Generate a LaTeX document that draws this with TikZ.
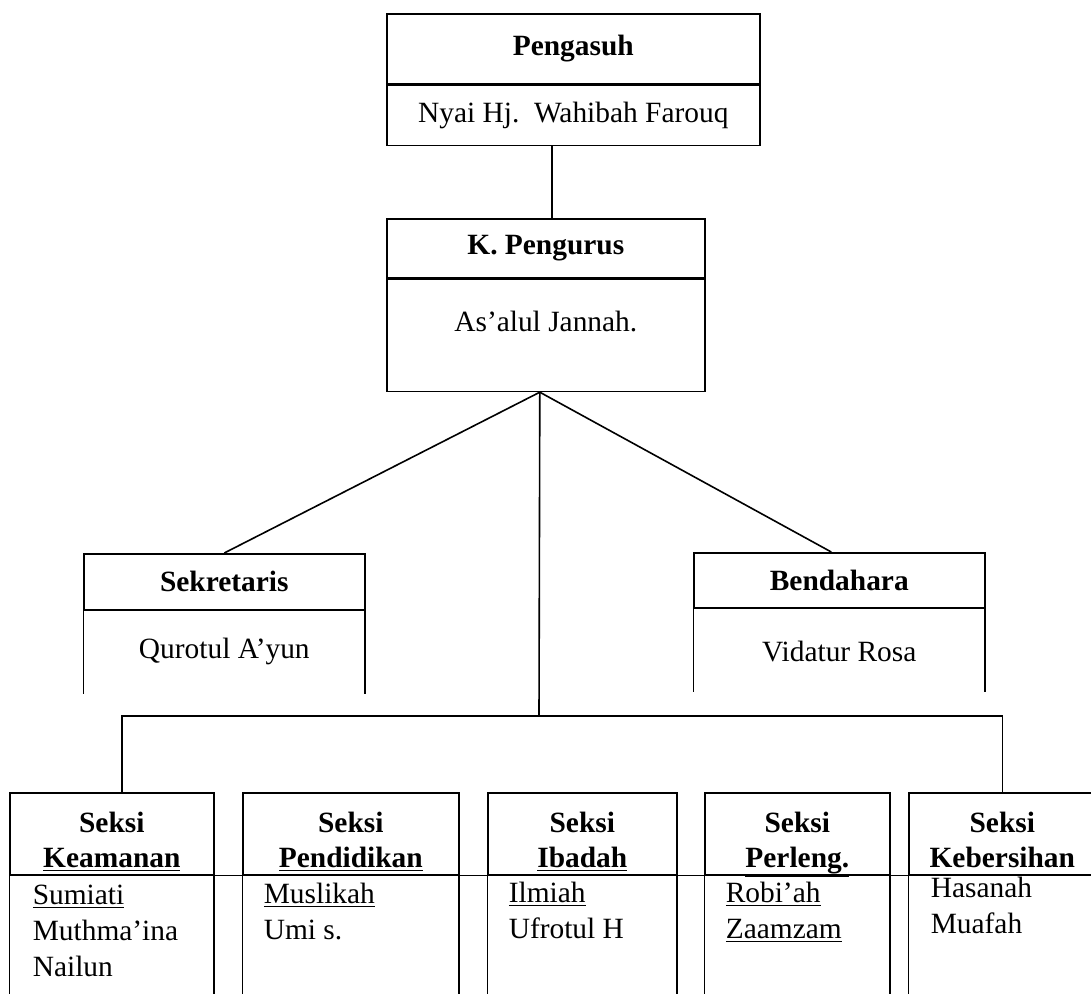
\documentclass[tikz,border=0pt]{standalone}
\usepackage{fontspec}
\setmainfont{Liberation Serif}
\usetikzlibrary{positioning, calc}

\begin{document}
\begin{tikzpicture}[%
    x=0.5pt, y=-0.5pt,
    every node/.style={%
      font=\fontsize{14.7}{18}\selectfont,
      text=black,
      inner sep=0pt
    },
    frame/.style={draw=black, line width=0.8pt},
    link/.style={draw=black, line width=0.8pt},
    head/.style={frame, align=center, font=\fontsize{14.7}{17.5}\selectfont\bfseries},
    headtext/.style={align=center, font=\fontsize{14.7}{17.5}\selectfont\bfseries},
    names/.style={anchor=north west, align=left}
  ]

  \useasboundingbox (0,0) rectangle (1091,994);

  % Pengasuh
  \node[head, minimum width=186.5pt, minimum height=35pt, anchor=north west]
    (p1) at (386,13) {Pengasuh};
  \node[frame, minimum width=186.5pt, minimum height=30pt, anchor=north]
    (p2) at (p1.south) {Nyai Hj.\ \ Wahibah Farouq};

  % K. Pengurus
  \node[head, minimum width=159pt, minimum height=29.5pt, anchor=north west]
    (k1) at (386,218) {K. Pengurus};
  \node[frame, minimum width=159pt, minimum height=56pt, anchor=north]
    (k2) at (k1.south) {};
  \node (k3) at ($(k2.north)+(0,43)$) {As'alul Jannah.};

  % Sekretaris
  \node[head, minimum width=140.5pt, minimum height=28pt, anchor=north west]
    (s1) at (83,553) {Sekretaris};
  \node[minimum width=140.5pt, minimum height=41.5pt, anchor=north]
    (s2) at (s1.south) {};
  \draw[link] (s2.north west) -- (s2.south west);
  \draw[link] (s2.north east) -- (s2.south east);
  \node (s3) at ($(s2.north)+(0,41)$) {Qurotul A'yun};

  % Bendahara
  \node[head, minimum width=145.5pt, minimum height=27.5pt, anchor=north west]
    (b1) at (693,552) {Bendahara};
  \node[minimum width=145.5pt, minimum height=41.5pt, anchor=north]
    (b2) at (b1.south) {};
  \draw[link] (b2.north west) -- (b2.south west);
  \draw[link] (b2.north east) -- (b2.south east);
  \node (b3) at ($(b2.north)+(0,43)$) {Vidatur Rosa};

  % Seksi
  \node[frame, minimum width=102pt, minimum height=41pt, anchor=north west] (e1) at (9,792) {};
  \node[frame, minimum width=108pt, minimum height=41pt, anchor=north west] (e2) at (242,792) {};
  \node[frame, minimum width=94.5pt, minimum height=41pt, anchor=north west] (e3) at (487,792) {};
  \node[frame, minimum width=92.5pt, minimum height=41pt, anchor=north west] (e4) at (704,792) {};
  \node[frame, minimum width=93.5pt, minimum height=41pt, anchor=north west] (e5) at (908,792) {};
  \node[headtext] (g1) at ($(e1.center)+(0,9)$) {Seksi\strut\\\underline{Keamanan}\strut};
  \node[headtext] (g2) at ($(e2.center)+(0,9)$) {Seksi\strut\\\underline{Pendidikan}\strut};
  \node[headtext] (g3) at ($(e3.center)+(0,9)$) {Seksi\strut\\\underline{Ibadah}\strut};
  \node[headtext] (g4) at ($(e4.center)+(0,9)$) {Seksi\strut\\\underline{Perleng.}\strut};
  \node[headtext] (g5) at ($(e5.center)+(0,9)$) {Seksi\strut\\Kebersihan\strut};

  \node[minimum width=102pt, minimum height=60pt, anchor=north] (f1) at (e1.south) {};
  \node[minimum width=108pt, minimum height=60pt, anchor=north] (f2) at (e2.south) {};
  \node[minimum width=94.5pt, minimum height=60pt, anchor=north] (f3) at (e3.south) {};
  \node[minimum width=92.5pt, minimum height=60pt, anchor=north] (f4) at (e4.south) {};
  \node[minimum width=93.5pt, minimum height=60pt, anchor=north] (f5) at (e5.south) {};
  \draw[link] (f1.north west) -- (f1.south west);
  \draw[link] (f1.north east) -- (f1.south east);
  \draw[link] (f2.north west) -- (f2.south west);
  \draw[link] (f2.north east) -- (f2.south east);
  \draw[link] (f3.north west) -- (f3.south west);
  \draw[link] (f3.north east) -- (f3.south east);
  \draw[link] (f4.north west) -- (f4.south west);
  \draw[link] (f4.north east) -- (f4.south east);
  \draw[link] (f5.north west) -- (f5.south west);
  \draw[link] (e1.south west) -- (e5.south east);

  \node[names] (n1) at ($(f1.north west)+(23,9)$)
    {\underline{Sumiati}\\Muthma'ina\\Nailun};
  \node[names] (n2) at ($(f2.north west)+(21,7)$)
    {\underline{Muslikah}\\Umi s.};
  \node[names] (n3) at ($(f3.north west)+(21,6)$)
    {\underline{Ilmiah}\\Ufrotul H};
  \node[names] (n4) at ($(f4.north west)+(21,6)$)
    {\underline{Robi'ah}\\\underline{Zaamzam}};
  \node[names] (n5) at ($(f5.north west)+(22,1)$)
    {Hasanah\\Muafah};

  % Connectors
  \draw[link] ([xshift=-10.75pt]p2.south) -- ([xshift=-10.75pt]p2.south |- k1.north);
  \draw[link] ([xshift=-3pt]k2.south) -- (s1.north);
  \draw[link] ([xshift=-3pt]k2.south) -- ([xshift=-4pt]b1.north);
  \coordinate (t0) at (539,716);
  \draw[link] ([xshift=-3pt]k2.south) -- (t0);
  \draw[link] ([xshift=5pt]e1.north) |- (t0) -| (e5.north);

\end{tikzpicture}
\end{document}
